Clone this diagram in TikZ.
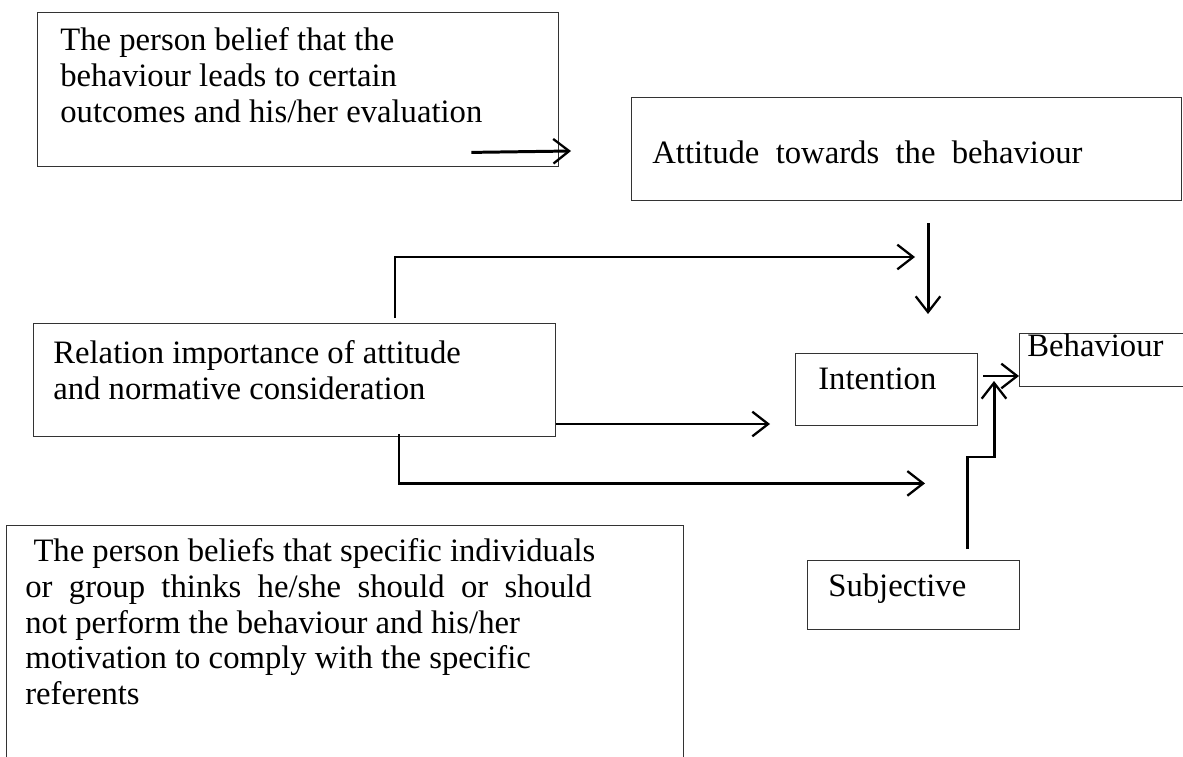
\documentclass[tikz,border=0pt]{standalone}
\usepackage{fontspec}
\setmainfont{Liberation Serif}
\usepackage{tikz}
\usetikzlibrary{arrows.meta, positioning, calc}
\tikzset{
  frame/.style={rectangle,draw=black!80,line width=0.8pt,inner sep=0pt,anchor=north west},
  txt/.style={inner sep=0pt,anchor=north west,align=left,font=\fontsize{18.6}{20.4}\selectfont},
  arr/.style={-{Straight Barb[length=9pt,width=14pt,line width=1.3pt]},line width=1.7pt},
}

\begin{document}
\begin{tikzpicture}[x=0.02cm,y=-0.02cm]
  \clip (0,0) rectangle (1183,757);

  \node[frame, minimum width=521*0.02cm, minimum height=154*0.02cm] (belief)    at (37,12)  {};
  \node[frame, minimum width=550*0.02cm, minimum height=103*0.02cm] (attitude)  at (631,97) {};
  \node[frame, minimum width=522*0.02cm, minimum height=113*0.02cm] (relation)  at (33,323) {};
  \node[frame, minimum width=182*0.02cm, minimum height=72*0.02cm]  (intention) at (795,353) {};
  \node[frame, minimum width=200*0.02cm, minimum height=53*0.02cm]  (behaviour) at (1019,333) {};
  \node[frame, minimum width=212*0.02cm, minimum height=69*0.02cm]  (subjective) at (807,560) {};
  \node[frame, minimum width=677*0.02cm, minimum height=260*0.02cm] (norms)     at (6,525) {};

  \node[txt] (belief-t) at (60,27)
    {The person belief that the\\behaviour leads to certain\\outcomes and his/her evaluation};
  \node[txt] (attitude-t) at (652,140) {Attitude\ \ towards\ \ the\ \ behaviour};
  \node[txt] (relation-t) at (53,340)
    {Relation importance of attitude\\and normative consideration};
  \node[txt] (intention-t) at (818,368) {Intention};
  \node[txt] (behaviour-t) at (1027,333) {Behaviour};
  \node[txt] (subjective-t) at (828,573) {Subjective};
  \node[txt] (norms-t) at (25,538)
    {\ The person beliefs that specific individuals\\or\ \ group\ \ thinks\ \ he/she\ \ should\ \ or\ \ should\\not perform the behaviour and his/her\\motivation to comply with the specific\\referents};

  % free ends of the connectors
  \coordinate (b-out)  at ($(belief.south east)+(-88,-15)$);
  \coordinate (b-in)   at ($(attitude.north west)+(-60,54)$);
  \coordinate (r-up)   at ($(relation.north west)+(362,-5)$);
  \coordinate (i-top1) at ($(intention.north west)+(120,-96)$);
  \coordinate (a-down) at ($(attitude.south west)+(297,22)$);
  \coordinate (i-top2) at ($(intention.north west)+(133,-39)$);
  \coordinate (r-side) at ($(relation.north east)+(0,101)$);
  \coordinate (i-left) at ($(intention.north west)+(-25,71)$);
  \coordinate (r-down) at ($(relation.south west)+(366,-3)$);
  \coordinate (i-low)  at ($(intention.south west)+(130,57)$);
  \coordinate (i-out)  at ($(intention.north east)+(5,23)$);
  \coordinate (s-up)   at ($(subjective.north west)+(160,-11)$);
  \coordinate (s-bend) at ($(subjective.north west)+(160,-103)$);
  \coordinate (s-end)  at ($(behaviour.north west)+(-25,48)$);

  \draw[arr] (b-out) -- (b-in);
  \draw[arr] (r-up) |- (i-top1);
  \draw[arr] (a-down) -- (i-top2);
  \draw[arr] (r-side) -- (i-left);
  \draw[arr] (r-down) |- (i-low);
  \draw[arr] (i-out) -- (behaviour.west |- i-out);
  \draw[arr] (s-up) -- (s-bend) -| (s-end);
\end{tikzpicture}
\end{document}
